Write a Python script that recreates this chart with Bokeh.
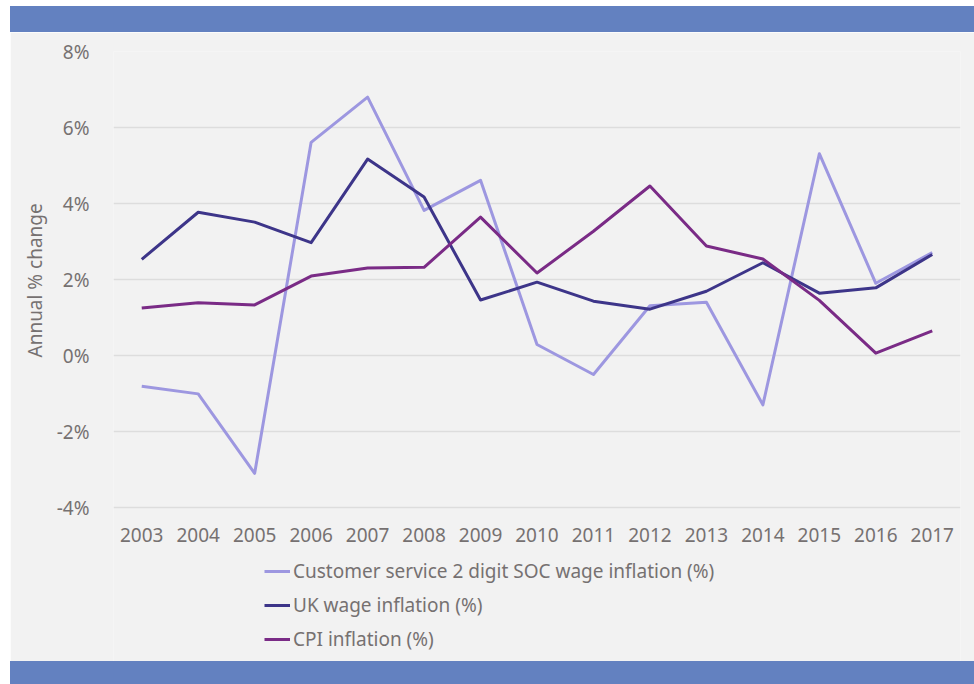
from bokeh.plotting import figure
from bokeh.models import FactorRange, Range1d, FixedTicker, PrintfTickFormatter, Legend, LegendItem, Div, Title
from bokeh.layouts import column
from bokeh.embed import file_html
from bokeh.resources import INLINE

years = [str(y) for y in range(2003, 2018)]
customer_service = [-0.81, -1.01, -3.10, 5.61, 6.80, 3.82, 4.61, 0.29, -0.50, 1.31, 1.40, -1.30, 5.31, 1.90, 2.71]
uk_wage = [2.53, 3.77, 3.51, 2.97, 5.17, 4.17, 1.46, 1.93, 1.43, 1.22, 1.69, 2.44, 1.64, 1.78, 2.66]
cpi = [1.25, 1.39, 1.33, 2.09, 2.30, 2.32, 3.64, 2.17, 3.27, 4.46, 2.88, 2.54, 1.45, 0.06, 0.65]
y_ticks = [-4, -2, 0, 2, 4, 6, 8]
series_names = ["Customer service 2 digit SOC wage inflation (%)", "UK wage inflation (%)", "CPI inflation (%)"]
colors = ["#9d97e0", "#3d3589", "#7a2b86"]

FONT = "Noto Sans"
FS = "19px"
TXT = "#767171"
BG = "#f2f2f2"
BLUE = "#6381c0"

FIG_W, FIG_H = 964, 629
TOP = 19
PX_PER_UNIT = 38.0
frame_h = FIG_H - TOP
y_top = y_ticks[-1]
y_bottom = y_top - frame_h / PX_PER_UNIT

p = figure(x_range=FactorRange(*years), y_range=Range1d(y_bottom, y_top),
           width=FIG_W, height=FIG_H, output_backend="svg", toolbar_location=None,
           min_border_left=103, min_border_right=14, min_border_top=TOP, min_border_bottom=0,
           background_fill_color=BG, border_fill_color=BG, outline_line_color=None)

renderers = []
for vals, c in zip([customer_service, uk_wage, cpi], colors):
    r = p.line(years, vals, line_color=c, line_width=3, line_join="round")
    renderers.append(r)

p.yaxis.ticker = FixedTicker(ticks=y_ticks)
p.yaxis.formatter = PrintfTickFormatter(format="%d%%")
p.xaxis.fixed_location = y_ticks[0]
for ax in [p.xaxis[0], p.yaxis[0]]:
    ax.axis_line_color = None
    ax.major_tick_line_color = None
    ax.minor_tick_line_color = None
    ax.major_label_text_font = FONT
    ax.major_label_text_font_size = FS
    ax.major_label_text_color = TXT
p.yaxis.major_label_standoff = 18
p.xaxis.major_label_standoff = 14

# y-axis title, centred on the -4%..8% span (frame extends below for the legend)
mid_offset = (0 - y_bottom) * PX_PER_UNIT
ytitle = Title(text="Annual % change", align="left", vertical_align="middle",
               offset=mid_offset - 2, standoff=9,
               text_font=FONT, text_font_size=FS, text_font_style="normal", text_color=TXT)
p.add_layout(ytitle, "left")

p.xgrid.grid_line_color = None
p.ygrid.grid_line_color = "#dddddd"
p.ygrid.grid_line_width = 1.5

legend = Legend(items=[LegendItem(label=n, renderers=[r]) for n, r in zip(series_names, renderers)],
                location=(151, 9), orientation="vertical",
                label_text_font=FONT, label_text_font_size=FS, label_text_color=TXT,
                background_fill_alpha=0, border_line_color=None,
                glyph_width=26, glyph_height=26, label_height=26, label_standoff=3,
                spacing=8, padding=0, margin=0)
p.add_layout(legend, "center")

top = Div(text="", width=964, height=26, styles={"background-color": BLUE}, margin=(6, 0, 0, 10))
p.margin = (0, 0, 0, 10)
bottom = Div(text="", width=964, height=23, styles={"background-color": BLUE}, margin=(0, 0, 0, 10))

layout = column(top, p, bottom, spacing=0, styles={"background-color": "white"})

open("out.html", "w").write(file_html(layout, INLINE))
